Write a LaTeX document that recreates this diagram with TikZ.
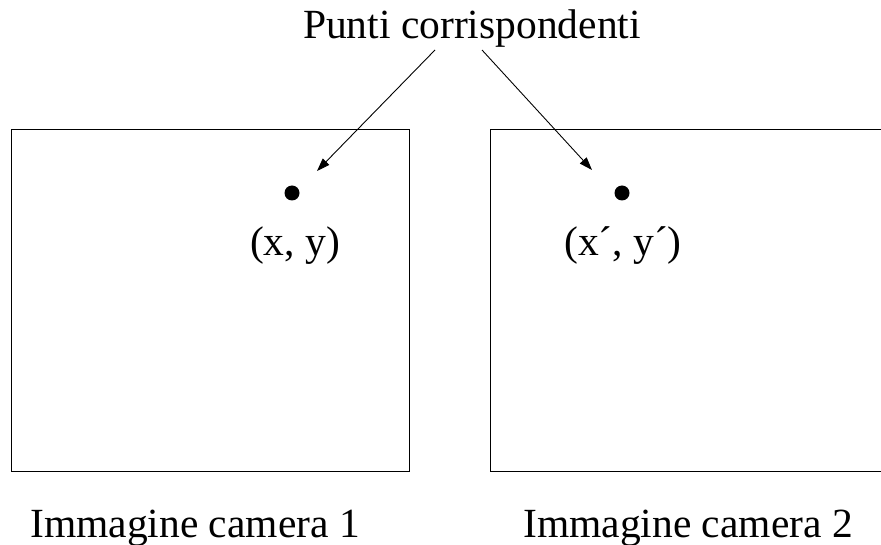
\documentclass[tikz,border=0pt]{standalone}
\usepackage{fontspec}
\setmainfont{Liberation Serif}
\usetikzlibrary{arrows.meta}
\begin{document}
\begin{tikzpicture}[x=1pt,y=-1pt,
  lbl/.style={font=\fontsize{41.5}{48}\selectfont, inner sep=0pt, anchor=base},
  frame/.style={draw=black, line width=1pt},
  pointer/.style={draw=black, line width=0.9pt, -{Triangle[length=13pt,width=9pt]}},
  pt/.style={circle, fill=black, inner sep=0pt, minimum size=15pt}]
\useasboundingbox (0,0) rectangle (881,545);
\clip (0,0) rectangle (881,545);
% image frames
\draw[frame] (11,130) rectangle (409,471);
\draw[frame] (895,130) -- (490,130) -- (490,471) -- (895,471);
% title
\node[lbl] (title) at (472,39) {Punti corrispondenti};
\coordinate (t1) at (435,50);
\coordinate (t2) at (482,50);
% points
\node[pt] (p1) at (292,193) {};
\node[pt] (p2) at (622,193) {};
\coordinate (a1) at (317,171);
\coordinate (a2) at (592,170);
\draw[pointer] (t1) -- (a1);
\draw[pointer] (t2) -- (a2);
% point labels
\node[lbl] (l1) at (295,256) {(x, y)};
\node[lbl] (l2) at (623,256) {(x´, y´)};
% captions
\node[lbl] (c1) at (195,537) {Immagine camera 1};
\node[lbl] (c2) at (688,537) {Immagine camera 2};
\end{tikzpicture}
\end{document}
